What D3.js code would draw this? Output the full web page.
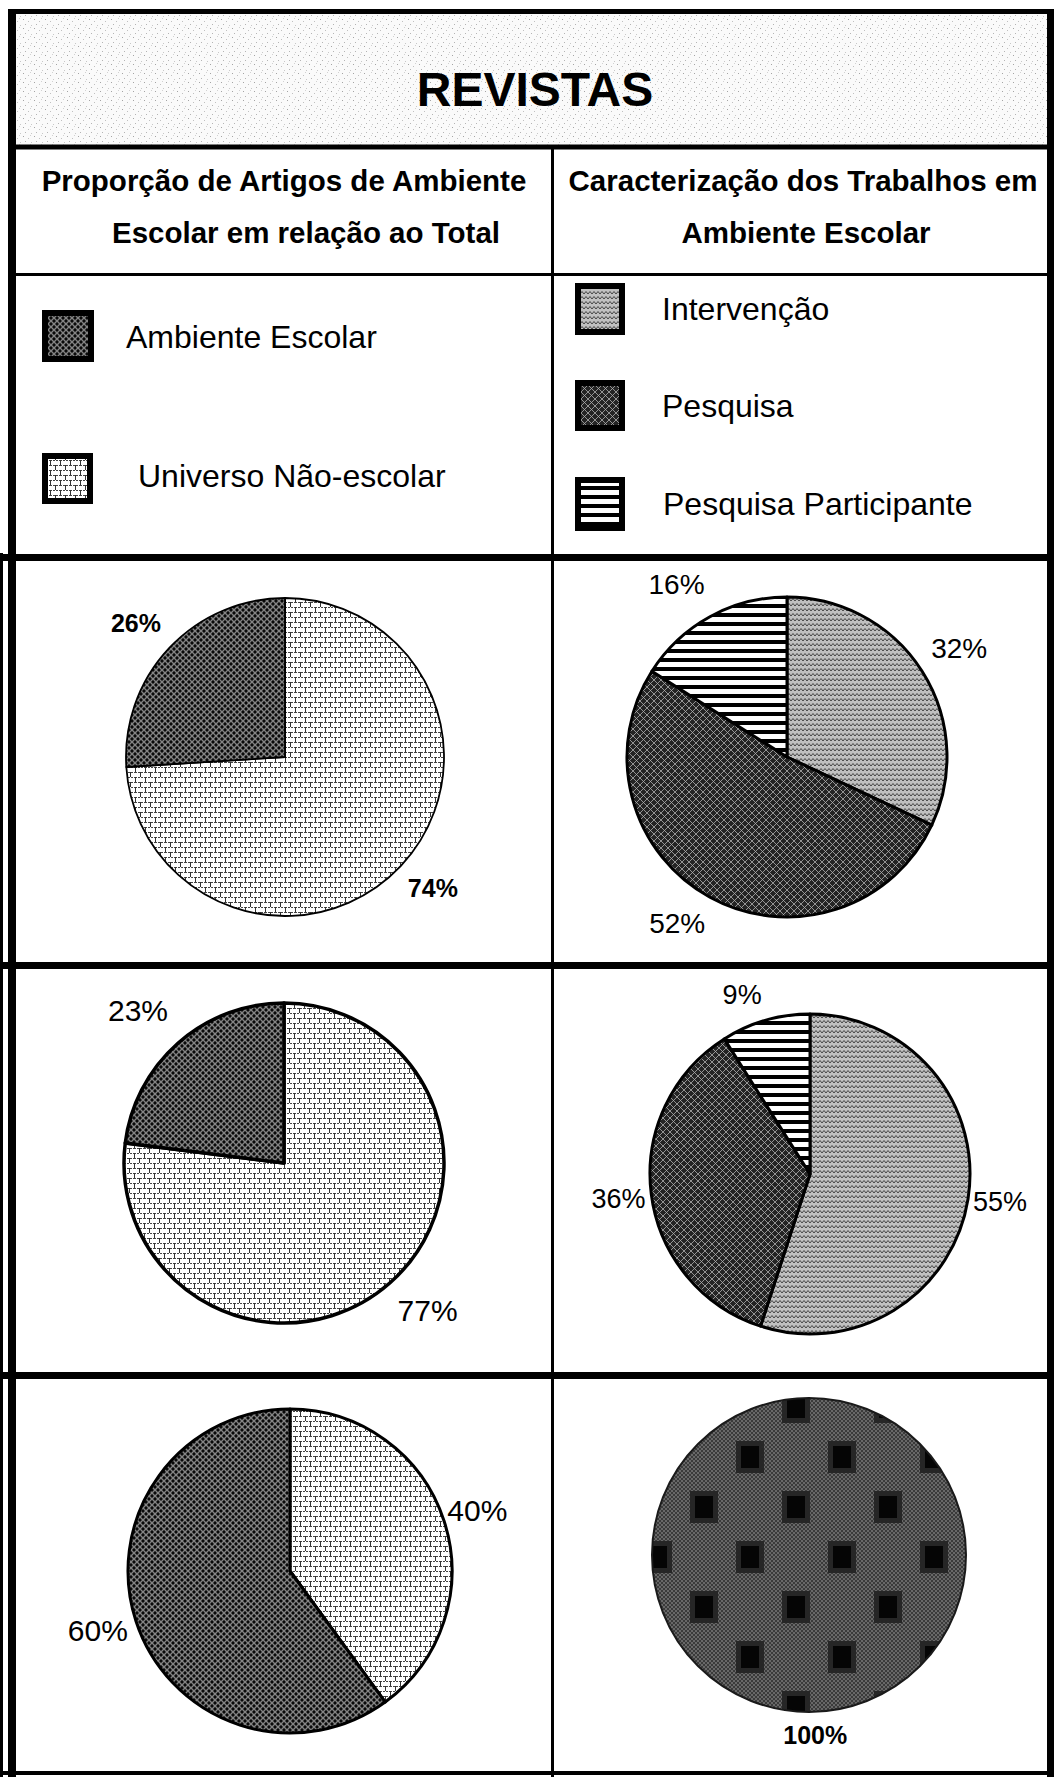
<!DOCTYPE html>
<html><head><meta charset="utf-8">
<script src="https://cdn.jsdelivr.net/npm/d3@7"></script>
<style>body{margin:0;background:#fff}svg{display:block}</style>
</head><body>
<svg id="c" width="1054" height="1777"></svg>
<script>
// ---------- DATA ----------
const title = "REVISTAS";
const headerLeft = ["Proporção de Artigos de Ambiente", "Escolar em relação ao Total"];
const headerRight = ["Caracterização dos Trabalhos em", "Ambiente Escolar"];
const leftCategories = ["Ambiente Escolar", "Universo Não-escolar"];
const rightCategories = ["Intervenção", "Pesquisa", "Pesquisa Participante"];
// values in % (Ambiente Escolar, Universo Não-escolar)
const leftRow1 = [26, 74];
const leftRow2 = [23, 77];
const leftRow3 = [60, 40];
// values in % (Intervenção, Pesquisa, Pesquisa Participante)
const rightRow1 = [32, 52, 16];
const rightRow2 = [55, 36, 9];
const rightRow3 = [0, 100, 0];

// ---------- STYLE / LAYOUT ----------
const W = 1054, H = 1777;
const FONT = "'Liberation Sans', Arial, Helvetica, sans-serif";
const svg = d3.select("#c");
const defs = svg.append("defs");

function pattern(id, w, h, draw, x0 = 0, y0 = 0) {
  const p = defs.append("pattern").attr("id", id).attr("width", w).attr("height", h)
    .attr("x", x0).attr("y", y0).attr("patternUnits", "userSpaceOnUse");
  draw(p);
}
// title stipple
pattern("p-title", 11, 9, p => {
  p.append("rect").attr("width", 11).attr("height", 9).attr("fill", "#fafafa");
  [[1, 1, "#a4a4a4"], [6, 3, "#c0c0c0"], [3, 6, "#b4b4b4"], [9, 7, "#c8c8c8"], [8, 0, "#d2d2d2"]].forEach(([x, y, c]) =>
    p.append("rect").attr("x", x).attr("y", y).attr("width", 1).attr("height", 1).attr("fill", c));
});
// Ambiente Escolar: dark gray with black dots
pattern("p-amb", 6, 6, p => {
  p.append("rect").attr("width", 6).attr("height", 6).attr("fill", "#5c5c5c");
  p.append("path").attr("d", "M0,0L6,6M6,0L0,6").attr("stroke", "#a0a0a0").attr("stroke-width", 0.6);
  [[3, 0], [0, 3], [6, 3], [3, 6]].forEach(([x, y]) =>
    p.append("circle").attr("cx", x).attr("cy", y).attr("r", 1.4).attr("fill", "#0a0a0a"));
});
// Universo Não-escolar: brick
pattern("p-uni", 10, 10, p => {
  p.append("rect").attr("width", 10).attr("height", 10).attr("fill", "#fff");
  p.append("path").attr("d", "M0,0.5H10M0,5.5H10").attr("stroke", "#444").attr("stroke-width", 1).attr("stroke-dasharray", "2 1");
  p.append("path").attr("d", "M0.5,0V5M5.5,5V10").attr("stroke", "#333").attr("stroke-width", 1);
});
// Intervenção: wavy
pattern("p-int", 8, 5, p => {
  p.append("rect").attr("width", 8).attr("height", 5).attr("fill", "#c0c0c0");
  p.append("path").attr("d", "M0,4L2,1.5L4,4L6,1.5L8,4").attr("fill", "none").attr("stroke", "#444").attr("stroke-width", 1);
});
// Pesquisa: dark crosshatch
pattern("p-pes", 7, 7, p => {
  p.append("rect").attr("width", 7).attr("height", 7).attr("fill", "#242424");
  p.append("path").attr("d", "M0,0L7,7M7,0L0,7").attr("stroke", "#b0b0b0").attr("stroke-width", 0.8);
});
// Pesquisa Participante: horizontal stripes
pattern("p-par", 9, 9, p => {
  p.append("rect").attr("width", 9).attr("height", 9).attr("fill", "#fff");
  p.append("rect").attr("width", 9).attr("height", 4).attr("fill", "#000");
});
// full pie: fine hatch + black squares
pattern("p-fine", 4, 4, p => {
  p.append("rect").attr("width", 4).attr("height", 4).attr("fill", "#3a3a3a");
  p.append("path").attr("d", "M0,0L4,4M4,0L0,4").attr("stroke", "#888").attr("stroke-width", 0.6);
});
pattern("p-full", 92, 100, p => {
  p.append("rect").attr("width", 92).attr("height", 100).attr("fill", "url(#p-fine)");
  [[0, 0], [46, 50], [92, 0], [0, 100], [92, 100]].forEach(([x, y]) => {
    p.append("rect").attr("x", x - 14).attr("y", y - 16).attr("width", 28).attr("height", 32).attr("fill", "#262626");
    p.append("rect").attr("x", x - 9).attr("y", y - 11).attr("width", 18).attr("height", 22).attr("fill", "#050505");
  });
}, -59, -98);

const leftFill = { "Ambiente Escolar": "url(#p-amb)", "Universo Não-escolar": "url(#p-uni)" };
const rightFill = { "Intervenção": "url(#p-int)", "Pesquisa": "url(#p-pes)", "Pesquisa Participante": "url(#p-par)" };

// ---------- TABLE ----------
svg.append("rect").attr("x", 12).attr("y", 12).attr("width", 1036).attr("height", 134).attr("fill", "url(#p-title)");
svg.append("text").attr("x", 535).attr("y", 106).attr("text-anchor", "middle")
  .attr("font-family", FONT).attr("font-weight", "bold").attr("font-size", 48).text(title);

function hline(y, x1, x2, w) { svg.append("line").attr("x1", x1).attr("x2", x2).attr("y1", y).attr("y2", y).attr("stroke", "#000").attr("stroke-width", w); }
function vline(x, y1, y2, w) { svg.append("line").attr("x1", x).attr("x2", x).attr("y1", y1).attr("y2", y2).attr("stroke", "#000").attr("stroke-width", w); }

hline(11.5, 8, W, 5);
hline(147, 8, W, 5);
hline(274.5, 8, W, 3);
hline(557.5, 0, W, 7);
hline(965.5, 0, W, 7);
hline(1375.5, 0, W, 7);
hline(1773, 0, W, 4);
vline(12, 9, H, 8);
vline(1.5, 553, H, 3);
vline(1050.5, 9, H, 7);
vline(552.5, 147, H, 3);

// headers
[[headerLeft, [284, 306]], [headerRight, [803, 806]]].forEach(([lines, xs]) => {
  lines.forEach((t, i) => svg.append("text").attr("x", xs[i]).attr("y", i ? 243 : 191)
    .attr("text-anchor", "middle").attr("font-family", FONT).attr("font-weight", "bold")
    .attr("font-size", 29.5).text(t));
});

// legends
const leftLegendLayout = [{ box: [45, 313, 46, 46], tx: 126, ty: 348 }, { box: [45, 456, 45, 45], tx: 138, ty: 487 }];
const rightLegendLayout = [{ box: [578, 286, 44, 46], tx: 662, ty: 320 }, { box: [578, 383, 44, 45], tx: 662, ty: 417 }, { box: [578, 480, 44, 48], tx: 663, ty: 515 }];
function legend(cats, fills, layout) {
  cats.forEach((c, i) => {
    const L = layout[i];
    svg.append("rect").attr("x", L.box[0]).attr("y", L.box[1]).attr("width", L.box[2]).attr("height", L.box[3])
      .attr("fill", fills[c]).attr("stroke", "#000").attr("stroke-width", 6);
    svg.append("text").attr("x", L.tx).attr("y", L.ty).attr("font-family", FONT).attr("font-size", 32).text(c);
  });
}
legend(leftCategories, leftFill, leftLegendLayout);
legend(rightCategories, rightFill, rightLegendLayout);

// ---------- PIES ----------
const pieGen = d3.pie().sort(null).value(d => d.value);
// adj: per-slice label [angle nudge in degrees, label radius] in pie drawing order
const pieSpecs = [
  { cx: 285, cy: 757, r: 159, side: "left", vals: leftRow1, fs: 25, fw: "bold", sw: 1.8, adj: [[-1.5, 198], [-1.4, 200]] },
  { cx: 787, cy: 757, r: 160, side: "right", vals: rightRow1, fs: 28, fw: "normal", sw: 3, adj: [[0, 204], [4.7, 199], [-3.8, 205]] },
  { cx: 284, cy: 1163, r: 160, side: "left", vals: leftRow2, fs: 30, fw: "normal", sw: 3.5, adj: [[-2.8, 206], [-2.4, 211]] },
  { cx: 810, cy: 1174, r: 160, side: "right", vals: rightRow2, fs: 27, fw: "normal", sw: 3, adj: [[-0.9, 192], [0, 193], [-4.5, 192]] },
  { cx: 290, cy: 1571, r: 162, side: "left", vals: leftRow3, fs: 30, fw: "normal", sw: 3, adj: [[0, 197], [0.9, 201]] },
  { cx: 809, cy: 1555, r: 157, side: "right", vals: rightRow3, fs: 25, fw: "bold", sw: 2, adj: [[0, 180], [-2, 180], [0, 180]], full: true }
];
pieSpecs.forEach(s => {
  let data;
  if (s.side === "left") {
    // clockwise from 12 o'clock: Universo first, then Ambiente
    data = [{ cat: leftCategories[1], value: s.vals[1] }, { cat: leftCategories[0], value: s.vals[0] }];
  } else {
    data = rightCategories.map((c, i) => ({ cat: c, value: s.vals[i] }));
  }
  const all = pieGen(data);
  all.forEach((d, i) => { d.adj = s.adj[i]; });
  const arcs = all.filter(d => d.data.value > 0);
  const arc = d3.arc().innerRadius(0).outerRadius(s.r);
  const g = svg.append("g").attr("transform", `translate(${s.cx},${s.cy})`);
  const fills = s.side === "left" ? leftFill : rightFill;
  g.selectAll("path").data(arcs).join("path")
    .attr("d", arc)
    .attr("fill", d => s.full ? "url(#p-full)" : fills[d.data.cat])
    .attr("stroke", s.full ? "#1a1a1a" : "#000").attr("stroke-width", s.sw).attr("stroke-linejoin", "round");
  g.selectAll("text").data(arcs).join("text")
    .attr("transform", d => {
      const a = (d.startAngle + d.endAngle) / 2 + d.adj[0] * Math.PI / 180;
      const R = d.adj[1];
      return `translate(${R * Math.sin(a)},${-R * Math.cos(a)})`;
    })
    .attr("text-anchor", "middle").attr("dy", "0.35em")
    .attr("font-family", FONT).attr("font-size", s.fs).attr("font-weight", s.fw)
    .text(d => d.data.value + "%");
});
</script>
</body></html>
